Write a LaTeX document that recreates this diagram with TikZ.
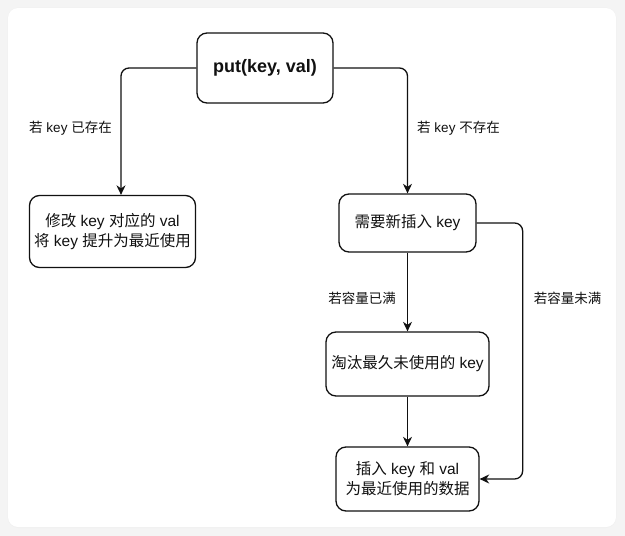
\documentclass[tikz,border=0pt]{standalone}
\usepackage{fontspec}
\setmainfont{Liberation Sans}
\newfontfamily\cjk{Noto Sans CJK SC}
\usetikzlibrary{arrows.meta}
\definecolor{bggray}{HTML}{F4F4F4}
\definecolor{ink}{HTML}{111111}
\begin{document}
\begin{tikzpicture}[x=1pt,y=-1pt,
  box/.style={draw=ink,line width=1.3pt,rounded corners=10pt,fill=white,align=center,
    inner sep=0pt,font=\fontsize{15.5}{20}\selectfont,text=ink},
  lbl/.style={font=\fontsize{13.5}{16}\selectfont,text=ink,inner sep=0pt},
  conn/.style={draw=ink,line width=1.3pt,rounded corners=8pt,-{Stealth[length=9.5pt,width=9pt,inset=3pt]}}]
\useasboundingbox (0,0) rectangle (625,536);
\fill[bggray] (0,0) rectangle (625,536);
\fill[black!6,rounded corners=11pt] (7.5,7.5) rectangle (616.5,528);
\fill[white,rounded corners=10pt] (8,8) rectangle (616,527);

\node[box,minimum width=136pt,minimum height=70pt,font=\fontsize{18}{22}\bfseries] (put) at (265,68) {put(key, val)};
\node[box,minimum width=166pt,minimum height=72pt] (A) at (112.5,231.5) {{\cjk 修改} key {\cjk 对应的} val\\{\cjk 将} key {\cjk 提升为最近使用}};
\node[box,minimum width=137pt,minimum height=58pt] (B) at (407.5,223) {{\cjk 需要新插入} key};
\node[box,minimum width=163pt,minimum height=64pt] (C) at (407.5,364) {{\cjk 淘汰最久未使用的} key};
\node[box,minimum width=143pt,minimum height=64pt] (D) at (407.5,479) {{\cjk 插入} key {\cjk 和} val\\{\cjk 为最近使用的数据}};

\node[lbl] (l1) at (70.5,128) {{\cjk 若} key {\cjk 已存在}};
\node[lbl] (l2) at (458.5,128) {{\cjk 若} key {\cjk 不存在}};
\node[lbl] (l3) at (362,298) {\cjk 若容量已满};
\node[lbl] (l4) at (567.5,298) {\cjk 若容量未满};

\draw[conn] (put.west) -| ([xshift=8.5pt]A.north);
\draw[conn] (put.east) -| (B.north);
\draw[conn,rounded corners=0pt] (B.south) -- (C.north);
\draw[conn,rounded corners=0pt] (C.south) -- (D.north);
\draw[conn] (B.east) -- ++(46,0) |- (D.east);
\end{tikzpicture}
\end{document}
